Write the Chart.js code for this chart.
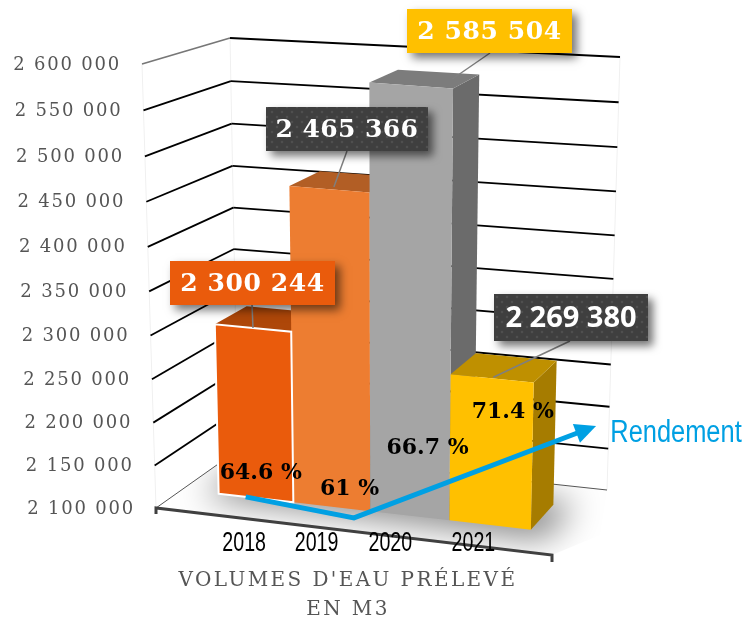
<!DOCTYPE html>
<html>
<head>
<meta charset="utf-8">
<title>Volumes d'eau prélevé</title>
<script src="https://cdn.jsdelivr.net/npm/chart.js@4"></script>
<style>
  body { margin: 0; background: #fff; }
  canvas { display: block; }
</style>
</head>
<body>
<canvas id="volumesChart" width="755" height="619"></canvas>
<script>
// data
const categories = ["2018", "2019", "2020", "2021"];
const volumes = [2300244, 2465366, 2585504, 2269380];
const rendement = [64.6, 61, 66.7, 71.4];
const trendYears = [2017.89, 2019.27, 2022.2];
const trendRates = [63.43, 61, 71.1];
const xTitleLines = ["VOLUMES D'EAU PRÉLEVÉ", "EN M3"];
const trendLabel = "Rendement";

// colours of each bar: front, top, side
const frontColors = ["#ea5b0c", "#ed7d31", "#a5a5a5", "#ffc000"];
const topColors = ["#ae4709", "#b25e25", "#7c7c7c", "#bf9000"];
const sideColors = ["#a5430a", "#a85822", "#6b6b6b", "#a67c00"];

// corners of the 3d box on the page (front/back, left/right, bottom/top)
const box = {
  flb: [156, 508], flt: [142, 64],
  frb: [552, 555], frt: [562, 96],
  blb: [238, 450], blt: [230, 38],
  brb: [607, 490], brt: [620, 57],
};
const barLeft = 0.094, barSpan = 0.806, barFront = 0.32, barBack = 0.71;
// perspective: things get a bit bigger towards the top and the right
const heightWarp = 0.05, widthWarp = 0.06;

function mix(a, b, t) {
  return [a[0] + (b[0] - a[0]) * t, a[1] + (b[1] - a[1]) * t];
}

// u = along the categories, v = height, w = depth
function project(u, v, w) {
  const h = v / (1 + heightWarp * (1 - v));
  const front = mix(mix(box.flb, box.frb, u), mix(box.flt, box.frt, u), h);
  const back = mix(mix(box.blb, box.brb, u), mix(box.blt, box.brt, u), h);
  return mix(front, back, w);
}

function poly(ctx, pts, color) {
  ctx.beginPath();
  pts.forEach((p, i) => (i ? ctx.lineTo(p[0], p[1]) : ctx.moveTo(p[0], p[1])));
  ctx.closePath();
  if (color) {
    ctx.fillStyle = color;
    ctx.fill();
  }
}

function formatVolume(value) {
  return String(value).replace(/\B(?=(\d{3})+$)/g, " ");
}

function toU(chart, px) {
  const area = chart.chartArea;
  const t = (px - area.left) / (area.right - area.left);
  return barLeft + barSpan * (t / (1 + widthWarp * (1 - t)));
}

function toV(chart, py) {
  const y = chart.scales.y;
  return (y.getValueForPixel(py) - y.min) / (y.max - y.min);
}

// one full category slot for each bar, height from the bar element
function barCorners(chart, bar, i) {
  const x = chart.scales.x;
  const center = x.getPixelForValue(i);
  const half = (x.right - x.left) / categories.length / 2;
  return {
    u0: toU(chart, center - half),
    u1: toU(chart, center + half),
    uc: toU(chart, center),
    v: toV(chart, bar.y),
  };
}

function condensedText(ctx, text, x, y, font, color, squeeze) {
  ctx.save();
  ctx.font = font;
  ctx.fillStyle = color;
  ctx.textAlign = "center";
  ctx.textBaseline = "middle";
  ctx.translate(x, y);
  ctx.scale(squeeze, 1);
  ctx.fillText(text, 0, 0);
  ctx.restore();
}

// box behind the big value labels
function dotPattern(ctx) {
  const tile = document.createElement("canvas");
  tile.width = 10;
  tile.height = 10;
  const t = tile.getContext("2d");
  t.fillStyle = "#3f3f3f";
  t.fillRect(0, 0, 10, 10);
  t.fillStyle = "#4f4f4f";
  [[2, 2], [7, 7]].forEach((d) => {
    t.beginPath();
    t.arc(d[0], d[1], 1.3, 0, Math.PI * 2);
    t.fill();
  });
  return ctx.createPattern(tile, "repeat");
}

const valueBoxes = [
  { x: 170, y: 261, w: 165, h: 44, bg: "#ea5b0c", font: "bold 25px 'DejaVu Serif'", gap: "0.6px", to: [252, 305] },
  { x: 266, y: 107, w: 162, h: 44, bg: "dots", font: "bold 25px 'DejaVu Serif'", gap: "0.4px", to: [347, 151] },
  { x: 407, y: 9, w: 165, h: 44, bg: "#ffc000", font: "bold 25px 'DejaVu Serif'", gap: "0.6px", to: [490, 53] },
  { x: 494, y: 294, w: 154, h: 47, bg: "dots", font: "bold 29px 'Open Sans'", gap: "0px", to: [570, 341] },
];
const leaderEnds = [[0.5, 0.0], [0.5, 0.15], [0.8, 0.6], [0.5, 0.05]];
const rateOffsets = [[5, -13], [18, -29], [18, -20], [23, -16]];
const yearOffsets = [13, 8, 2, 3];

const scene3d = {
  id: "scene3d",
  beforeDatasetsDraw(chart) {
    const ctx = chart.ctx;
    const yScale = chart.scales.y;
    const meta = chart.getDatasetMeta(0);
    ctx.save();

    // floor shadow, the shape itself is off the page so only the blur shows
    ctx.save();
    poly(ctx, [project(0, 0, 0), project(1, 0, 0), [600, 535], project(1, 0, 1), project(0, 0, 1)]);
    ctx.clip();
    ctx.shadowColor = "rgba(0,0,0,0.5)";
    ctx.shadowBlur = 34;
    ctx.shadowOffsetX = 2000 * chart.currentDevicePixelRatio;
    ctx.translate(-2000, 0);
    poly(ctx, [
      project(barLeft - 0.03, 0, barFront - 0.06),
      project(barLeft + barSpan + 0.05, 0, barFront - 0.1),
      project(barLeft + barSpan + 0.05, 0, barBack + 0.05),
      project(barLeft - 0.03, 0, barBack + 0.05),
    ], "#000");
    ctx.restore();

    // faint wall uprights
    ctx.strokeStyle = "#f0f0f0";
    ctx.lineWidth = 1;
    [[0, 0], [0, 1], [1, 1]].forEach((c) => {
      const a = project(c[0], 0, c[1]);
      const b = project(c[0], 1, c[1]);
      ctx.beginPath();
      ctx.moveTo(a[0], a[1]);
      ctx.lineTo(b[0], b[1]);
      ctx.stroke();
    });

    // grid lines + tick labels along the front left edge
    yScale.ticks.forEach((tick) => {
      const v = (tick.value - yScale.min) / (yScale.max - yScale.min);
      const a = project(0, v, 0);
      const b = project(0, v, 1);
      const c = project(1, v, 1);
      // side wall part, the top one and the floor one are lighter
      ctx.strokeStyle = v === 0 ? "#555" : v === 1 ? "#777" : "#000";
      ctx.lineWidth = v === 0 ? 1 : 1.8;
      ctx.beginPath();
      ctx.moveTo(a[0], a[1]);
      ctx.lineTo(b[0], b[1]);
      ctx.stroke();
      ctx.strokeStyle = v === 0 ? "#555" : "#000";
      ctx.beginPath();
      ctx.moveTo(b[0], b[1]);
      ctx.lineTo(c[0], c[1]);
      ctx.stroke();

      ctx.fillStyle = "#555";
      ctx.font = "18px 'DejaVu Serif'";
      ctx.letterSpacing = "1.8px";
      ctx.textAlign = "right";
      ctx.textBaseline = "middle";
      ctx.fillText(formatVolume(tick.value), a[0] - 21, a[1] + 1);
      ctx.letterSpacing = "0px";
    });

    // front axis
    const p0 = project(0, 0, 0);
    const p1 = project(1, 0, 0);
    ctx.strokeStyle = "#404040";
    ctx.lineWidth = 3;
    ctx.beginPath();
    ctx.moveTo(p0[0], p0[1] + 6);
    ctx.lineTo(p0[0], p0[1]);
    ctx.lineTo(p1[0], p1[1]);
    ctx.lineTo(p1[0], p1[1] + 7);
    ctx.stroke();

    // bars, left to right
    meta.data.forEach((bar, i) => {
      const c = barCorners(chart, bar, i);
      poly(ctx, [
        project(c.u1, 0, barFront), project(c.u1, 0, barBack),
        project(c.u1, c.v, barBack), project(c.u1, c.v, barFront),
      ], sideColors[i]);
      poly(ctx, [
        project(c.u0, c.v, barFront), project(c.u1, c.v, barFront),
        project(c.u1, c.v, barBack), project(c.u0, c.v, barBack),
      ], topColors[i]);
      poly(ctx, [
        project(c.u0, 0, barFront), project(c.u1, 0, barFront),
        project(c.u1, c.v, barFront), project(c.u0, c.v, barFront),
      ], frontColors[i]);
    });
    // 2018 has a white outline, on top of its neighbour
    const first = barCorners(chart, meta.data[0], 0);
    poly(ctx, [
      project(first.u0, 0, barFront), project(first.u1, 0, barFront),
      project(first.u1, first.v, barFront), project(first.u0, first.v, barFront),
    ]);
    ctx.strokeStyle = "#fff";
    ctx.lineWidth = 2;
    ctx.stroke();

    // years
    meta.data.forEach((bar, i) => {
      const p = project(barCorners(chart, bar, i).uc, 0, 0);
      condensedText(ctx, categories[i], p[0] + yearOffsets[i], 543, "28px 'Liberation Sans'", "#000", 0.7);
    });

    // axis title
    ctx.fillStyle = "#555";
    ctx.textAlign = "center";
    ctx.textBaseline = "middle";
    ctx.font = "20px 'DejaVu Serif'";
    ctx.letterSpacing = "2.4px";
    ctx.fillText(xTitleLines[0], 348, 581);
    ctx.fillText(xTitleLines[1], 348, 610);
    ctx.letterSpacing = "0px";
    ctx.restore();
  },
  afterDatasetsDraw(chart) {
    const ctx = chart.ctx;
    const barMeta = chart.getDatasetMeta(0);
    const trendMeta = chart.getDatasetMeta(1);
    const rateMeta = chart.getDatasetMeta(2);
    ctx.save();

    // arrow head
    const pts = trendMeta.data;
    const end = pts[pts.length - 1];
    const prev = pts[pts.length - 2];
    const angle = Math.atan2(end.y - prev.y, end.x - prev.x);
    ctx.save();
    ctx.translate(end.x, end.y);
    ctx.rotate(angle);
    poly(ctx, [[13, 0], [-8, -10], [-8, 10]], "#00a0e3");
    ctx.restore();
    condensedText(ctx, trendLabel, 676, 433, "31px 'Liberation Sans'", "#00a0e3", 0.82);

    // rendement labels
    rateMeta.data.forEach((pt, i) => {
      const c = barCorners(chart, barMeta.data[i], i);
      const p = project(c.uc, 0, barFront);
      ctx.fillStyle = "#000";
      ctx.font = "bold 22px 'DejaVu Serif'";
      ctx.textAlign = "center";
      ctx.textBaseline = "middle";
      ctx.fillText(rendement[i] + " %", p[0] + rateOffsets[i][0], pt.y + rateOffsets[i][1]);
    });

    // value labels with their leader lines
    const dots = dotPattern(ctx);
    barMeta.data.forEach((bar, i) => {
      const b = valueBoxes[i];
      const c = barCorners(chart, bar, i);
      const e = leaderEnds[i];
      const tip = project(c.u0 + (c.u1 - c.u0) * e[0], c.v, barFront + (barBack - barFront) * e[1]);
      ctx.strokeStyle = "#7f7f7f";
      ctx.lineWidth = 1.5;
      ctx.beginPath();
      ctx.moveTo(b.to[0], b.to[1]);
      ctx.lineTo(tip[0], tip[1]);
      ctx.stroke();
    });
    barMeta.data.forEach((bar, i) => {
      const b = valueBoxes[i];
      ctx.save();
      ctx.shadowColor = "rgba(0,0,0,0.55)";
      ctx.shadowBlur = 9;
      ctx.shadowOffsetX = 5;
      ctx.shadowOffsetY = 5;
      ctx.fillStyle = b.bg === "dots" ? dots : b.bg;
      ctx.fillRect(b.x, b.y, b.w, b.h);
      ctx.restore();
      ctx.fillStyle = "#fff";
      ctx.font = b.font;
      ctx.letterSpacing = b.gap;
      ctx.textAlign = "center";
      ctx.textBaseline = "middle";
      ctx.fillText(formatVolume(volumes[i]), b.x + b.w / 2, b.y + b.h / 2 + 1);
      ctx.letterSpacing = "0px";
    });
    ctx.restore();
  },
};

const volumesCtx = document.getElementById("volumesChart").getContext("2d");
const volumesChart = new Chart(volumesCtx, {
  type: "bar",
  data: {
    labels: categories,
    datasets: [
      {
        label: "Volumes",
        data: volumes,
        backgroundColor: "rgba(0,0,0,0)",
        barPercentage: 1,
        categoryPercentage: 1,
      },
      {
        type: "line",
        label: trendLabel,
        data: trendYears.map((year, i) => ({ x: year, y: trendRates[i] })),
        xAxisID: "xTrend",
        yAxisID: "yTrend",
        borderColor: "#00a0e3",
        borderWidth: 5,
        borderJoinStyle: "miter",
        pointRadius: 0,
        tension: 0,
        fill: false,
      },
      {
        type: "line",
        label: "Taux",
        data: rendement,
        yAxisID: "yTrend",
        showLine: false,
        pointRadius: 0,
      },
    ],
  },
  options: {
    responsive: false,
    animation: false,
    layout: { padding: 0 },
    plugins: { legend: { display: false }, tooltip: { enabled: false } },
    scales: {
      x: { display: false, offset: true },
      y: { display: false, min: 2100000, max: 2600000, ticks: { stepSize: 50000 } },
      xTrend: { type: "linear", display: false, offset: false, min: 2014.76, max: 2024.38 },
      yTrend: { type: "linear", display: false, min: 49.3, max: 120.9 },
    },
  },
  plugins: [scene3d],
});
</script>
</body>
</html>
